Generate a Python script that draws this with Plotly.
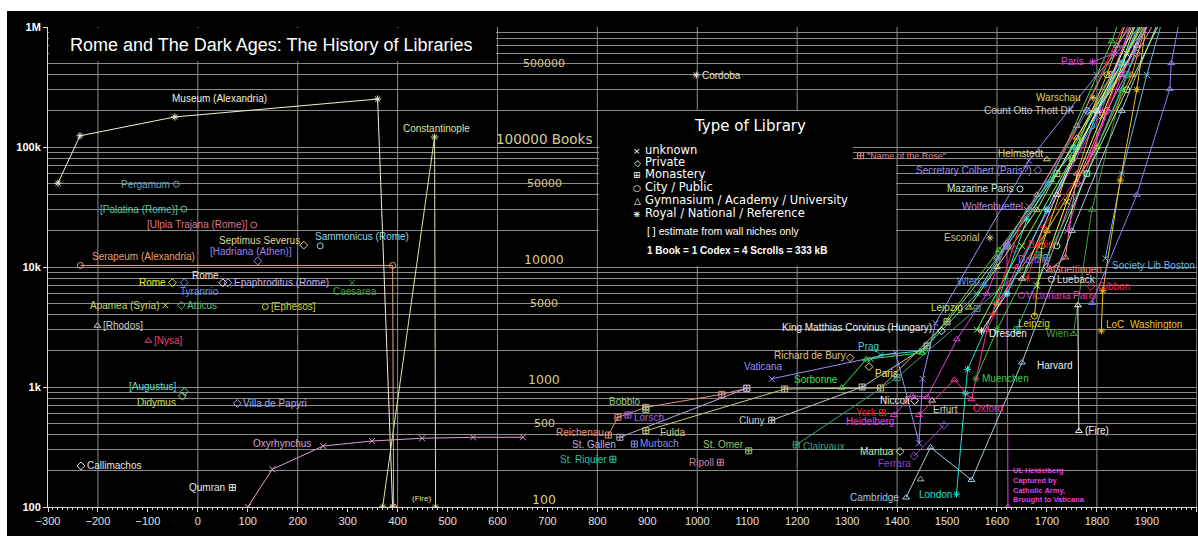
import numpy as np
import plotly.graph_objects as go

# ---------------- data: (years, number of books) ----------------
museum_alexandria = ([-280, -236, -46, 360, 390], [50000, 124000, 178000, 251000, 100])
constantinople = ([370, 474, 476], [100, 121000, 100])
serapeum = ([-235, 390, 392], [10300, 10300, 100])
pergamum = ([-43], [49000])
palatina = ([-28], [30400])
ulpia_trajana = ([112], [22400])
septimus_severus = ([212], [15200])
sammonicus = ([245], [15000])
hadriana = ([120], [11200])
rome_a = ([-51], [7400])
tyrannio = ([-27], [7400])
rome_b = ([50], [7400])
epaphroditus = ([60], [7400])
caesarea = ([309], [7400])
apamea = ([-65], [4800])
atticus = ([-33], [4800])
ephesos = ([135], [4670])
rhodos = ([-201], [3240])
nysa = ([-99], [2430])
augustus = ([-27], [914])
didymus = ([-31], [841])
villa_papyri = ([79], [731])
oxyrhynchus = ([100, 149, 251, 349, 449, 551, 651], [100, 206, 322, 355, 374, 381, 381])
callimachos = ([-234], [220])
qumran = ([69], [145])
cordoba = ([998], [398000])
vivarium = ([579], [95])
seville = ([626], [88])
reichenau = ([822, 841, 897, 1049, 1099], [398, 559, 677, 869, 976])
lorsch = ([861], [585])
bobbio = ([897], [651])
st_gallen = ([845, 1099], [381, 976])
fulda = ([897, 1175, 1367, 1500, 1620, 1720, 1830, 1880], [432, 962, 981, 3500, 15000, 60000, 400000, 1300000])
murbach = ([874], [335])
st_riquier = ([831], [250])
st_omer = ([1103], [294])
ripoll = ([1046], [236])
cluny = ([1149, 1330, 1460], [528, 1000, 2200])
vaticana = ([1149, 1397, 1444, 1451, 1477, 1664, 1800, 1910], [1170, 1930, 340, 1170, 3400, 77000, 400000, 1300000])
name_of_the_rose = ([1327], [84600])
clairvaux = ([1198, 1400, 1560, 1684], [329, 1200, 4500, 12600])
richard_de_bury = ([1306], [1750])
paris_private = ([1344], [1480])
prag = ([1348, 1367, 1450, 1560, 1660, 1760, 1860, 1910], [1700, 1850, 2000, 6000, 30000, 100000, 500000, 1300000])
sorbonne = ([1289, 1338, 1450, 1604, 1708, 1830, 1850], [986, 1700, 1930, 13800, 53000, 760000, 1300000])
corvinus = ([1489], [2930])
niccoli = ([1435], [769])
erfurt = ([1470], [770])
york = ([1371], [611])
heidelberg = ([1394, 1430, 1460, 1520, 1580, 1620, 1622], [585, 850, 820, 2500, 6000, 16000, 100])
mantua = ([1406], [291])
ferrara = ([1434, 1494], [266, 482])
cambridge = ([1418, 1467, 1549, 1650, 1750, 1850, 1930], [120, 314, 168, 1600, 20000, 200000, 1300000])
london = ([1519, 1537, 1541, 1600, 1660, 1753, 1850, 1895], [128, 886, 1400, 5000, 25000, 100000, 500000, 1300000])
gray_triangle = ([1447], [170])
muenchen = ([1558, 1600, 1700, 1800, 1850, 1905], [1170, 3000, 20000, 100000, 300000, 1300000])
oxford = ([1444, 1515, 1549, 1580, 1640, 1720, 1810, 1875], [585, 1150, 790, 3000, 10000, 40000, 200000, 1300000])
dresden = ([1569, 1620, 1700, 1800, 1885], [2930, 6000, 30000, 200000, 1300000])
leipzig = ([1544, 1600, 1680, 1760, 1850, 1905], [4600, 10000, 30000, 120000, 500000, 1300000])
wien = ([1574, 1620, 1700, 1780, 1860, 1915], [7100, 15000, 50000, 200000, 600000, 1300000])
escorial = ([1586], [17500])
berlin = ([1661, 1693, 1786, 1850, 1885], [8000, 21400, 80000, 500000, 1300000])
danzig = ([1636], [14000])
goettingen = ([1705, 1737, 1760, 1800, 1850, 1905], [9500, 12000, 60000, 200000, 400000, 1300000])
lueback = ([1709], [7900])
gibbon = ([1788], [6900])
boston = ([1817, 1850, 1900, 1935], [11800, 60000, 400000, 1300000])
victoriana = ([1649], [5800])
leipzig2 = ([1675, 1690, 1750, 1820, 1865], [3900, 15000, 80000, 400000, 1300000])
wien2 = ([1753, 1790, 1850, 1905], [2770, 30000, 300000, 1300000])
harvard = ([1762, 1764], [4800, 430])
loc_washington = ([1809, 1812, 1847, 1880, 1902], [2930, 6350, 53000, 300000, 1300000])
paris_royal = ([1791, 1835, 1875], [511000, 603000, 1300000])
warschau = ([1792], [259000])
otto_thott = ([1781], [200000])
helmstedt = ([1700], [79000])
colbert = ([1682], [64000])
mazarine = ([1646], [44700])
wolfenbuettel = ([1664], [32000])
cluster_a = ([1560, 1650, 1750, 1850, 1885], [3000, 15000, 80000, 500000, 1300000])
cluster_b = ([1600, 1700, 1800, 1870, 1905], [5000, 20000, 100000, 400000, 1300000])
cluster_c = ([1590, 1650, 1750, 1820, 1865], [4000, 25000, 120000, 500000, 1300000])
cluster_d = ([1620, 1700, 1790, 1850, 1895], [6000, 30000, 150000, 500000, 1300000])
cluster_e = ([1650, 1720, 1800, 1880, 1915], [8000, 40000, 200000, 700000, 1300000])
cluster_f = ([1700, 1760, 1820, 1880, 1925], [10000, 50000, 200000, 600000, 1300000])
cluster_g = ([1680, 1740, 1810, 1860, 1900], [7000, 35000, 180000, 600000, 1300000])
cluster_h = ([1790, 1880, 1946, 1949, 1968], [5000, 40000, 304000, 500000, 1300000])
cluster_i = ([1640, 1700, 1780, 1860, 1905], [3000, 12000, 60000, 400000, 1300000])
cluster_j = ([1600, 1680, 1760, 1840, 1885], [12000, 40000, 150000, 700000, 1300000])
cluster_k = ([1740, 1790, 1850, 1915], [20000, 90000, 400000, 1300000])
cluster_l = ([1720, 1780, 1860, 1935], [15000, 60000, 300000, 1300000])

SCALE_VALUES = [500000, 100000, 50000, 10000, 5000, 1000, 500, 100]
SCALE_TEXTS = ["500000", "100000 Books", "50000", "10000", "5000", "1000", "500", "100"]
Y_TICK_VALUES = [100, 1000, 10000, 100000, 1000000]
Y_TICK_TEXTS = ["100", "1k", "10k", "100k", "1M"]
LEGEND_TYPES = ["unknown", "Private", "Monastery", "City / Public",
                "Gymnasium / Academy / University", "Royal / National / Reference"]

# ---------------- styles ----------------
SYMBOL = {"unknown": "x-thin-open", "private": "diamond-open", "monastery": "square-cross-open",
          "city": "circle-open", "gym": "triangle-up-open", "royal": "asterisk-open"}
GLYPH = ["×", "◇", "⊞", "○", "△", "⋇"]

# data, label, type, color, (label point index, xanchor, xshift, yshift)
LIBS = [
    (museum_alexandria, "Museum (Alexandria)", "royal", "#f0f0d8", (2, "center", 45, 18)),
    (constantinople, "Constantinople", "royal", "#d8e8a0", (1, "center", 2, 9)),
    (serapeum, "Serapeum (Alexandria)", "city", "#e8a070", (0, "left", 10, 9)),
    (pergamum, "Pergamum", "city", "#6aa4c4", (0, "right", -4, 0)),
    (palatina, "[Palatina (Rome)]", "city", "#5cc8b0", (0, "right", -4, 0)),
    (ulpia_trajana, "[Ulpia Trajana (Rome)]", "city", "#e07090", (0, "right", -4, 0)),
    (septimus_severus, "Septimus Severus", "private", "#e0d890", (0, "right", -2, 5)),
    (sammonicus, "Sammonicus (Rome)", "city", "#90d8e8", (0, "left", -7, 9)),
    (hadriana, "[Hadriana (Athen)]", "private", "#9a80f0", (0, "center", -7, 10)),
    (rome_a, "Rome", "private", "#f0f020", (0, "right", -4, 0)),
    (tyrannio, "Tyrannio", "private", "#6090e8", (0, "left", -6, -9)),
    (rome_b, "Rome", "private", "#e8e8e8", (0, "right", -2, 7)),
    (epaphroditus, "Epaphroditus (Rome)", "private", "#c8b0e8", (0, "left", 4, 0)),
    (caesarea, "Caesarea", "unknown", "#40a040", (0, "center", 3, -9)),
    (apamea, "Apamea (Syria)", "unknown", "#c8d860", (0, "right", -4, 0)),
    (atticus, "Atticus", "private", "#60c080", (0, "left", 4, 0)),
    (ephesos, "[Ephesos]", "city", "#c8d040", (0, "left", 4, 0)),
    (rhodos, "[Rhodos]", "gym", "#d0d0d0", (0, "left", 4, 0)),
    (nysa, "[Nysa]", "gym", "#e84070", (0, "left", 4, 0)),
    (augustus, "[Augustus]", "private", "#60d8d8", (0, "right", -6, 5)),
    (didymus, "Didymus", "private", "#c8e060", (0, "right", -4, -6)),
    (villa_papyri, "Villa de Papyri", "private", "#a8a8e8", (0, "left", 4, 0)),
    (oxyrhynchus, "Oxyrhynchus", "unknown", "#d8a0d0", (2, "right", -10, 3)),
    (callimachos, "Callimachos", "private", "#e8e8e8", (0, "left", 4, 0)),
    (qumran, "Qumran", "monastery", "#e8e8e8", (0, "right", -5, 0)),
    (cordoba, "Cordoba", "royal", "#e8e8d0", (0, "left", 4, 0)),
    (vivarium, "Vivarium", "monastery", "#e8c8c8", (0, "right", 3, 8)),
    (seville, "Seville", "monastery", "#40a040", (0, "center", 2, 10)),
    (reichenau, "Reichenau", "monastery", "#e89080", (0, "right", -2, 3)),
    (lorsch, "Lorsch", "monastery", "#b060e8", (0, "left", 4, -3)),
    (bobbio, "Bobbio", "monastery", "#90c880", (0, "center", -21, 8)),
    (st_gallen, "St. Gallen", "monastery", "#b0b0d8", (0, "right", -2, -7)),
    (fulda, "Fulda", "monastery", "#d0c880", (0, "left", 12, -2)),
    (murbach, "Murbach", "monastery", "#8090f0", (0, "left", 4, 0)),
    (st_riquier, "St. Riquier", "monastery", "#20c0a0", (0, "right", -4, 0)),
    (st_omer, "St. Omer", "monastery", "#a0c060", (0, "right", -3, 6)),
    (ripoll, "Ripoll", "monastery", "#d080a0", (0, "right", -4, 0)),
    (cluny, "Cluny", "monastery", "#c8c8c8", (0, "right", -5, 0)),
    (vaticana, "Vaticana", "unknown", "#9a8cff", (0, "center", -8, 12)),
    (name_of_the_rose, "\"Name of the Rose\"", "monastery", "#e08090", (0, "left", 4, 0)),
    (clairvaux, "Clairvaux", "monastery", "#40a080", (0, "left", 5, -2)),
    (richard_de_bury, "Richard de Bury", "private", "#e0c080", (0, "right", -2, 2)),
    (paris_private, "Paris", "private", "#e8e880", (0, "left", 4, -7)),
    (prag, "Prag", "unknown", "#30d8d8", (1, "center", -12, 8)),
    (sorbonne, "Sorbonne", "gym", "#40e040", (0, "right", -2, 8)),
    (corvinus, "King Matthias Corvinus (Hungary)", "private", "#f0f0f0", (0, "right", -8, 3)),
    (niccoli, "Niccoli", "private", "#e8e8e8", (0, "right", -4, 0)),
    (erfurt, "Erfurt", "gym", "#c8c8c8", (0, "left", -1, -9)),
    (york, "York", "monastery", "#e82020", (0, "right", -4, 0)),
    (heidelberg, "Heidelberg", "gym", "#e040e0", (0, "right", 2, -7)),
    (mantua, "Mantua", "private", "#c8e8a8", (0, "right", -4, 0)),
    (ferrara, "Ferrara", "private", "#9040c8", (0, "right", -1, -7)),
    (cambridge, "Cambridge", "gym", "#a8c8e0", (0, "right", -5, 0)),
    (london, "London", "royal", "#20e0d0", (0, "right", -3, 0)),
    (gray_triangle, None, "gym", "#b0b0b0", None),
    (muenchen, "Muenchen", "royal", "#40c840", (0, "left", 4, 0)),
    (oxford, "Oxford", "gym", "#ff3399", (2, "left", -1, -9)),
    (dresden, "Dresden", "royal", "#f0f0f0", (0, "left", 6, -3)),
    (leipzig, "Leipzig", "gym", "#c8e060", (0, "right", -4, 0)),
    (wien, "Wien", "royal", "#5090e8", (0, "right", -2, 3)),
    (escorial, "Escorial", "royal", "#d8c080", (0, "right", -8, 0)),
    (berlin, "Berlin", "royal", "#ff2020", (1, "left", -17, -17)),
    (danzig, "Danzig", "private", "#9060e8", (0, "left", 1, -10)),
    (goettingen, "Goettingen", "gym", "#f09080", (0, "left", 2, 0)),
    (lueback, "Lueback", "city", "#d8d8d8", (0, "left", 4, 0)),
    (gibbon, "Gibbon", "private", "#ff2040", (0, "left", 5, 0)),
    (boston, "Society Lib Boston", "unknown", "#60b8e8", (0, "left", 5, -7)),
    (victoriana, "Victoriana Paris", "city", "#e040c0", (0, "left", 3, 0)),
    (leipzig2, "Leipzig", "city", "#d8d820", (0, "center", 0, -7)),
    (wien2, "Wien", "gym", "#40a040", (0, "right", -2, 0)),
    (harvard, "Harvard", "gym", "#f0f0f0", (1, "right", -4, 65)),
    (loc_washington, "LoC&nbsp;&nbsp;Washington", "royal", "#f0c020", (0, "left", 3, 6)),
    (paris_royal, "Paris", "royal", "#e040e0", (0, "right", -6, 0)),
    (warschau, "Warschau", "royal", "#d8d840", (0, "right", -10, 0)),
    (otto_thott, "Count Otto Thott DK", "private", "#c8c8c8", (0, "right", -10, 0)),
    (helmstedt, "Helmstedt", "gym", "#d8d870", (0, "right", -2, 6)),
    (colbert, "Secretary Colbert (Paris?)", "private", "#9a90e8", (0, "right", -4, 0)),
    (mazarine, "Mazarine Paris", "city", "#c8e8e8", (0, "right", -4, 0)),
    (wolfenbuettel, "Wolfenbuettel", "unknown", "#b090e8", (0, "right", -4, 0)),
    (cluster_a, None, "unknown", "#80ff40", None),
    (cluster_b, None, "gym", "#ff9020", None),
    (cluster_c, None, "unknown", "#ff3030", None),
    (cluster_d, None, "city", "#00c0ff", None),
    (cluster_e, None, "gym", "#e0e0e0", None),
    (cluster_f, None, "private", "#ff80c0", None),
    (cluster_g, None, "unknown", "#ffff40", None),
    (cluster_h, None, "gym", "#8080ff", None),
    (cluster_i, None, "monastery", "#20b0a0", None),
    (cluster_j, None, "gym", "#a0a0a0", None),
    (cluster_k, None, "unknown", "#ff40ff", None),
    (cluster_l, None, "city", "#a0ff80", None),
]

# extra notes: data, point index, text, xanchor, yanchor, xshift, yshift, size, bold, color
NOTES = [
    (constantinople, 2, "(Fire)", "right", "middle", -3, 9, 8, False, "#d8e8a0"),
    (harvard, 1, "(Fire)", "left", "middle", 4, 0, 10, False, "#f0f0f0"),
    (heidelberg, 6, "UL Heidelberg<br>Captured by<br>Catholic Army,<br>Brought to Vaticana",
     "left", "bottom", 3, 1, 7.5, True, "#e040e0"),
]

LABEL_FONT = "Liberation Sans, Arial, sans-serif"
LEGEND_FONT = "DejaVu Sans, Verdana, sans-serif"
GRID = "#8a8a8a"

# plot-area pixel box -> paper helpers
PL, PR, PT, PB = 48, 1197, 27, 507
def pxx(px):
    return (px - PL) / (PR - PL)
def pxy(py):
    return (PB - py) / (PB - PT)

fig = go.Figure()

for data, label, kind, color, lab in LIBS:
    years, vals = data
    below = min(vals) < 100
    fig.add_trace(go.Scatter(
        x=years, y=vals,
        mode="lines+markers" if len(years) > 1 else "markers",
        line=dict(color=color, width=1),
        marker=dict(symbol=SYMBOL[kind], size=6, color=color, line=dict(color=color, width=1)),
        cliponaxis=not below, hoverinfo="skip", showlegend=False))
    if label and lab:
        i, xa, dx, dy = lab
        fig.add_annotation(x=years[i], y=np.log10(vals[i]), xref="x", yref="y",
                           text=label, showarrow=False, xanchor=xa, yanchor="middle",
                           xshift=dx, yshift=dy,
                           font=dict(family=LABEL_FONT, size=9 if "Rose" in label else 10, color=color))

for data, i, text, xa, ya, dx, dy, size, bold, color in NOTES:
    years, vals = data
    fig.add_annotation(x=years[i], y=np.log10(vals[i]), xref="x", yref="y", text=text,
                       showarrow=False, xanchor=xa, yanchor=ya, xshift=dx, yshift=dy, align="left",
                       font=dict(family=LABEL_FONT, size=size, color=color,
                                 weight="bold" if bold else "normal"))

# scale labels in the 600-800 column
for v, t in zip(SCALE_VALUES, SCALE_TEXTS):
    decade = t.startswith("1")
    size = 13.5 if "Books" in t else (12.5 if decade else 11)
    fig.add_annotation(x=694, y=np.log10(v), xref="x", yref="y", text=t, showarrow=False,
                       xanchor="center", yanchor="middle", yshift=8 if decade else 0,
                       font=dict(family=LEGEND_FONT, size=size, color="#d8cc90"))

# vertical grid lines every 200 years
for yr in range(-200, 2001, 200):
    fig.add_shape(type="line", x0=yr, x1=yr, y0=0, y1=1, xref="x", yref="paper",
                  line=dict(color=GRID, width=1), layer="below")

# black boxes behind title and legend
for (x0, y0, x1, y1) in [(49, 28, 496, 61), (599, 111, 853, 266), (599, 160, 896, 266)]:
    fig.add_shape(type="rect", xref="paper", yref="paper", x0=pxx(x0), x1=pxx(x1),
                  y0=pxy(y1), y1=pxy(y0), fillcolor="black", line=dict(width=0), layer="above")
# white page edge (top and left)
for (x0, y0, x1, y1) in [(0, 0, 1198, 11), (0, 0, 7, 536)]:
    fig.add_shape(type="rect", xref="paper", yref="paper", x0=pxx(x0), x1=pxx(x1),
                  y0=pxy(y1), y1=pxy(y0), fillcolor="white", line=dict(width=0), layer="above")

# title
fig.add_annotation(xref="paper", yref="paper", x=pxx(68), y=pxy(45), xanchor="left", yanchor="middle",
                   text="Rome and The Dark Ages: The History of Libraries", showarrow=False,
                   font=dict(family=LABEL_FONT, size=18, color="white"))

# legend box content
fig.add_annotation(xref="paper", yref="paper", x=pxx(750), y=pxy(126), xanchor="center", yanchor="middle",
                   text="Type of Library", showarrow=False,
                   font=dict(family=LEGEND_FONT, size=15, color="white"))
rows = [149.5, 162, 174.5, 187, 200, 213]
for g, t, ry in zip(GLYPH, LEGEND_TYPES, rows):
    fig.add_annotation(xref="paper", yref="paper", x=pxx(637), y=pxy(ry + 1), xanchor="center",
                       yanchor="middle", text=g, showarrow=False,
                       font=dict(family=LEGEND_FONT, size=9, color="white"))
    fig.add_annotation(xref="paper", yref="paper", x=pxx(643), y=pxy(ry), xanchor="left",
                       yanchor="middle", text=t, showarrow=False,
                       font=dict(family=LEGEND_FONT, size=11.5, color="white"))
fig.add_annotation(xref="paper", yref="paper", x=pxx(645), y=pxy(231), xanchor="left", yanchor="middle",
                   text="[ ] estimate from wall niches only", showarrow=False,
                   font=dict(family=LABEL_FONT, size=10.5, color="white"))
fig.add_annotation(xref="paper", yref="paper", x=pxx(645), y=pxy(250), xanchor="left", yanchor="middle",
                   text="1 Book = 1 Codex = 4 Scrolls = 333 kB", showarrow=False,
                   font=dict(family=LABEL_FONT, size=10, color="white", weight="bold"))

minor_y = [m * 10 ** k for k in range(2, 6) for m in range(2, 10)]

fig.update_layout(
    width=1198, height=536, margin=dict(l=PL, r=1198 - PR, t=PT, b=536 - PB),
    paper_bgcolor="black", plot_bgcolor="black", showlegend=False, hovermode=False,
    xaxis=dict(range=[-300, 2000.5], tick0=0, dtick=100, showgrid=False, zeroline=False,
               showline=True, linecolor="#d8d8d8", linewidth=1, ticks="outside", ticklen=4,
               tickcolor="#d8d8d8", tickfont=dict(family=LABEL_FONT, size=11, color="#e0e0e0"),
               minor=dict(dtick=10, tick0=0, ticks="outside", ticklen=2, tickcolor="#d8d8d8",
                          showgrid=False)),
    yaxis=dict(type="log", range=[2, 6], tickmode="array", tickvals=Y_TICK_VALUES,
               ticktext=Y_TICK_TEXTS, showgrid=True, gridcolor=GRID, gridwidth=1, zeroline=False,
               showline=True, linecolor="#d8d8d8", linewidth=1, ticks="outside", ticklen=4,
               tickcolor="#d8d8d8",
               tickfont=dict(family=LABEL_FONT, size=11, color="white", weight="bold"),
               minor=dict(tickmode="array", tickvals=minor_y, showgrid=True, gridcolor=GRID,
                          gridwidth=1, ticks="")),
)

fig.write_html("out.html")
